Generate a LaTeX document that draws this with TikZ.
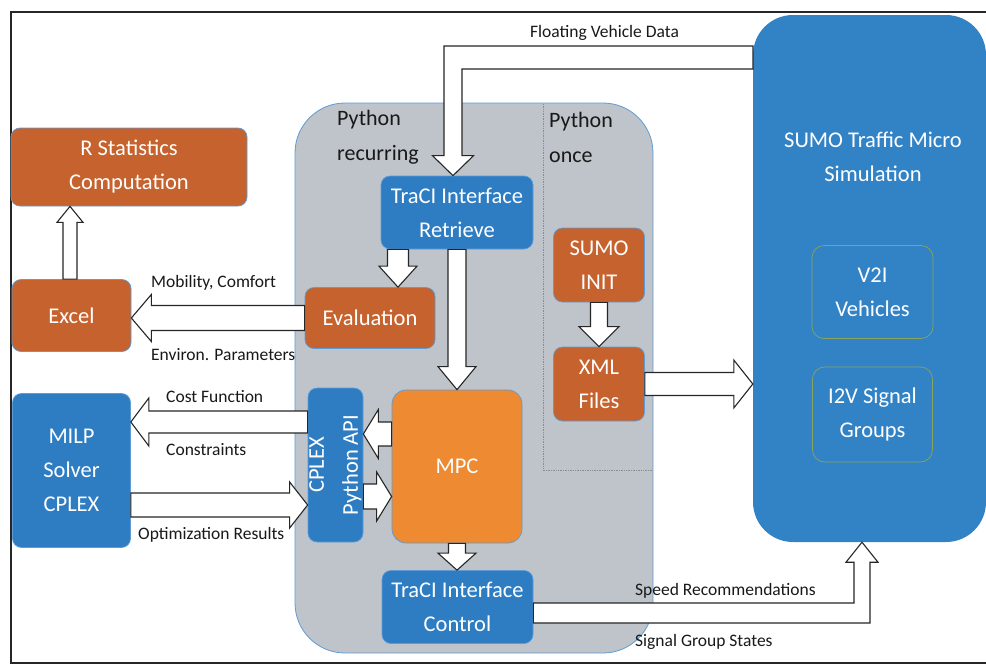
\documentclass[tikz,border=0pt]{standalone}
\usepackage{fontspec}
\setmainfont{Carlito}
\usetikzlibrary{calc}
\definecolor{orbox}{RGB}{197,98,46}
\definecolor{mpcor}{RGB}{237,138,50}
\definecolor{blbox}{RGB}{46,125,194}
\definecolor{sumobl}{RGB}{50,130,198}
\definecolor{pygray}{RGB}{190,196,201}
\definecolor{bordbl}{RGB}{95,155,212}
\definecolor{greenbd}{RGB}{135,165,95}
\definecolor{labtxt}{RGB}{25,25,25}
\newcommand\fsz[2]{\fontsize{#1}{#2}\selectfont}
% horizontal block arrow: shaft half, head half, signed head length, from, to
\newcommand\harr[5]{\draw[barr] let \p1=(#4), \p2=(#5) in
  ({\x1},{\y1+#1pt}) -- ({\x2-(#3pt)},{\y1+#1pt}) -- ({\x2-(#3pt)},{\y1+#2pt}) -- ({\x2},{\y1})
  -- ({\x2-(#3pt)},{\y1-#2pt}) -- ({\x2-(#3pt)},{\y1-#1pt}) -- ({\x1},{\y1-#1pt}) -- cycle;}
% vertical block arrow (canvas sign)
\newcommand\varr[5]{\draw[barr] let \p1=(#4), \p2=(#5) in
  ({\x1+#1pt},{\y1}) -- ({\x1+#1pt},{\y2-(#3pt)}) -- ({\x1+#2pt},{\y2-(#3pt)}) -- ({\x1},{\y2})
  -- ({\x1-#2pt},{\y2-(#3pt)}) -- ({\x1-#1pt},{\y2-(#3pt)}) -- ({\x1-#1pt},{\y1}) -- cycle;}
\tikzset{
  box/.style={rounded corners=9pt, draw=bordbl, line width=0.7pt, text=white,
    font=\fsz{22.5}{34}, align=center, inner sep=0pt},
  obox/.style={box, fill=orbox},
  bbox/.style={box, fill=blbox},
  inbox/.style={rounded corners=12pt, draw=greenbd, line width=0.7pt, text=white,
    font=\fsz{22.5}{34}, align=center, inner sep=0pt},
  barr/.style={draw=black!85, line width=1.1pt, fill=white, line join=miter},
  lab/.style={font=\fsz{17.5}{20}, text=labtxt, anchor=west, inner sep=0pt},
  pytxt/.style={font=\fsz{22}{35}, text=labtxt, anchor=west, align=left, inner sep=0pt},
}
\begin{document}
\begin{tikzpicture}[x=1pt,y=-1pt]
\useasboundingbox (0,0) rectangle (986,665);
\fill[white] (0,0) rectangle (986,665);
% outer frame
\draw[black!85, line width=1.4pt] (986,12) coordinate (fr1) -- (11,12) -- (11,663) -- (986,663) coordinate (fr2);
% python region
\node[rounded corners=50pt, fill=pygray, draw=bordbl, line width=0.8pt,
  minimum width=358pt, minimum height=550pt, inner sep=0pt] (py) at (474,378) {};
\draw[black!45, densely dotted, line width=0.7pt] (543,104) coordinate (d1) -- (543,470) coordinate (d2) -- (652,470) coordinate (d3);
\node[pytxt] (pyrec) at (337,137.5) {Python\\recurring};
\node[pytxt] (pyonce) at (549,137.5) {Python\\once};
% SUMO
\node[rounded corners=40pt, fill=sumobl, minimum width=233pt, minimum height=527pt, inner sep=0pt] (sumo) at (869.5,278.5) {};
\node[font=\fsz{22.5}{34}, text=white, align=center] (sumotxt) at (873,157) {SUMO Traffic Micro\\Simulation};
\node[inbox, minimum width=121pt, minimum height=93pt] (v2i) at (872.5,292) {V2I\\Vehicles};
\node[inbox, minimum width=120pt, minimum height=95pt] (i2v) at (872.5,414.5) {I2V Signal\\Groups};
% boxes
\node[obox, minimum width=236pt, minimum height=78pt] (rstat) at (129,167) {R Statistics\\Computation};
\node[obox, minimum width=119pt, minimum height=72pt] (excel) at (71.5,315.5) {Excel};
\node[obox, minimum width=130pt, minimum height=61pt] (eval) at (370,318) {Evaluation};
\node[bbox, minimum width=118pt, minimum height=154pt] (milp) at (71.5,470.5) {MILP\\Solver\\CPLEX};
\node[bbox, rotate=90, minimum width=154pt, minimum height=55pt] (api) at (335.5,465) {CPLEX\\Python API};
\node[box, fill=mpcor, minimum width=130pt, minimum height=153pt, rounded corners=14pt] (mpc) at (457,466.5) {MPC};
\node[bbox, minimum width=152pt, minimum height=73pt] (retr) at (457,212.5) {TraCI Interface\\Retrieve};
\node[bbox, minimum width=151pt, minimum height=73pt] (ctrl) at (457.5,607) {TraCI Interface\\Control};
\node[obox, minimum width=91pt, minimum height=74pt] (sinit) at (599,265) {SUMO\\INIT};
\node[obox, minimum width=91pt, minimum height=74pt] (xml) at (599,384) {XML\\Files};
% straight block arrows
\harr{12.5}{23.5}{-20}{eval.west}{excel.east}
\varr{7}{13}{16}{[xshift=-1.5pt]excel.north}{rstat.south}
\varr{10.5}{19}{-21}{[xshift=-59pt]retr.south}{eval.north}
\varr{9}{19}{-23}{retr.south}{mpc.north}
\varr{8.5}{20}{-20}{sinit.south}{xml.north}
\harr{11.5}{24}{19}{xml.east}{sumo.west}
\harr{12}{24.5}{-15}{[yshift=32.5pt]mpc.west}{api.south}
\harr{12.5}{24.5}{15}{[yshift=-31.5pt]api.south}{mpc.west}
\harr{11}{24}{-18}{[yshift=43pt]api.north}{milp.east}
\harr{12}{23}{18}{[yshift=-34.5pt]milp.east}{api.north}
\varr{8.5}{19}{-17}{mpc.south}{ctrl.north}
% floating vehicle data (bent)
\coordinate (fvd) at (753,57.5);
\draw[barr] let \p1=(fvd), \p2=([xshift=-4pt]retr.north) in
  ({\x1},{\y1+11.5pt}) -- ({\x2-9pt},{\y1+11.5pt}) -- ({\x2-9pt},{\y2+20pt}) -- ({\x2-20.5pt},{\y2+20pt})
  -- ({\x2},{\y2}) -- ({\x2+20.5pt},{\y2+20pt}) -- ({\x2+9pt},{\y2+20pt}) -- ({\x2+9pt},{\y1-11.5pt})
  -- ({\x1},{\y1-11.5pt}) -- cycle;
% speed recommendations (bent)
\draw[barr] let \p1=([yshift=-6pt]ctrl.east), \p2=([xshift=-7.5pt]sumo.south) in
  ({\x1},{\y1+10pt}) -- ({\x2-8pt},{\y1+10pt}) -- ({\x2-8pt},{\y2-20pt}) -- ({\x2-16pt},{\y2-20pt})
  -- ({\x2},{\y2}) -- ({\x2+16pt},{\y2-20pt}) -- ({\x2+8pt},{\y2-20pt}) -- ({\x2+8pt},{\y1-10pt})
  -- ({\x1},{\y1-10pt}) -- cycle;
% labels
\node[lab] (l1) at (151,283) {Mobility, Comfort};
\node[lab] (l2) at (151,355) {Environ. Parameters};
\node[lab] (l3) at (166,397) {Cost Function};
\node[lab] (l4) at (166,450) {Constraints};
\node[lab] (l5) at (138,535) {Optimization Results};
\node[lab] (l6) at (530,33) {Floating Vehicle Data};
\node[lab] (l7) at (635,591) {Speed Recommendations};
\node[lab] (l8) at (635,642) {Signal Group States};
\end{tikzpicture}
\end{document}
